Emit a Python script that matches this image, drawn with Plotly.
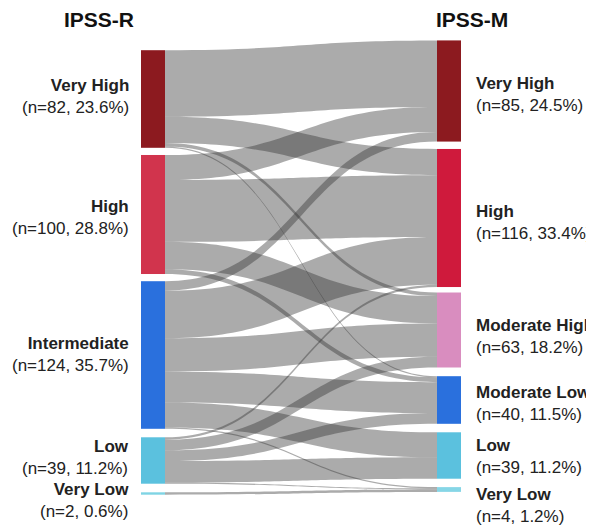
import plotly.graph_objects as go

# ---- data ----
left_names = ["Very High", "High", "Intermediate", "Low", "Very Low"]
left_counts = [82, 100, 124, 39, 2]
right_names = ["Very High", "High", "Moderate High", "Moderate Low", "Low", "Very Low"]
right_counts = [85, 116, 63, 40, 39, 4]

link_source = [0, 0, 0, 0,
               1, 1, 1, 1,
               2, 2, 2, 2, 2, 2,
               3, 3, 3, 3, 3,
               4]
link_target = [5, 6, 7, 8,
               5, 6, 7, 8,
               5, 6, 7, 8, 9, 10,
               6, 7, 8, 9, 10,
               10]
link_value = [56, 22, 3, 1,
              21, 52, 23, 4,
              8, 40, 28, 26, 21, 1,
              2, 9, 9, 18, 1,
              2]

left_colors = ["#8c1a1f", "#d1344d", "#2a70dd", "#5bc1de", "#7fd4e4"]
right_colors = ["#8c1a1f", "#cf1a3c", "#d98dbf", "#2a70dd", "#5bc1de", "#86d6e6"]

# ---- layout geometry (screen pixels; page body has an 8px margin) ----
OFF = 8
W, H = 594 - OFF, 529 - OFF


def fx(px):
    return (px - OFF) / W


def fy(py):
    return 1 - (py - OFF) / H


dom_x0, dom_x1 = 141, 461
dom_y0, dom_y1 = 41, 494
dw = dom_x1 - dom_x0
dh = dom_y1 - dom_y0
thick = 24

left_centers_px = [99, 214.5, 355, 460.5, 493.5]
right_centers_px = [91, 218, 330, 400, 455.5, 489.5]

node_x = [12 / dw] * len(left_names) + [(dw - 12) / dw] * len(right_names)
node_y = [(c - dom_y0) / dh for c in left_centers_px] + [(c - dom_y0) / dh for c in right_centers_px]

fig = go.Figure(go.Sankey(
    arrangement="fixed",
    domain=dict(x=[fx(dom_x0), fx(dom_x1)], y=[fy(dom_y1), fy(dom_y0)]),
    node=dict(
        label=[""] * (len(left_names) + len(right_names)),
        customdata=left_names + right_names,
        hovertemplate="%{customdata}: %{value}<extra></extra>",
        color=left_colors + right_colors,
        thickness=thick,
        pad=8,
        line=dict(width=0),
        x=node_x,
        y=node_y,
    ),
    link=dict(
        source=link_source,
        target=link_target,
        value=link_value,
        color="rgba(50,50,50,0.41)",
    ),
))

total_left = sum(left_counts)
total_right = sum(right_counts)
font_fam = "Arial, Liberation Sans, Helvetica, sans-serif"

annotations = []
left_label_y = [97, 217, 355, 457, 500]
for name, n, yy in zip(left_names, left_counts, left_label_y):
    annotations.append(dict(
        xref="paper", yref="paper", x=fx(131), y=fy(yy),
        xanchor="right", yanchor="middle", align="right", showarrow=False,
        text=f"<b>{name}</b><br>(n={n}, {100 * n / total_left:.1f}%)",
        font=dict(family=font_fam, size=17, color="#222222"),
    ))
right_label_y = [95, 222, 336, 403, 456, 505]
for name, n, yy in zip(right_names, right_counts, right_label_y):
    annotations.append(dict(
        xref="paper", yref="paper", x=fx(474), y=fy(yy),
        xanchor="left", yanchor="middle", align="left", showarrow=False,
        text=f"<b>{name}</b><br>(n={n}, {100 * n / total_right:.1f}%)",
        font=dict(family=font_fam, size=17, color="#222222"),
    ))
annotations.append(dict(
    xref="paper", yref="paper", x=fx(99), y=fy(19), xanchor="center", yanchor="middle",
    showarrow=False, borderpad=0, text="<b>IPSS-R</b>", font=dict(family=font_fam, size=21, color="#111111")))
annotations.append(dict(
    xref="paper", yref="paper", x=fx(472), y=fy(20), xanchor="center", yanchor="middle",
    showarrow=False, borderpad=0, text="<b>IPSS-M</b>", font=dict(family=font_fam, size=21, color="#111111")))

fig.update_layout(
    width=W, height=H,
    margin=dict(l=0, r=0, t=0, b=0),
    paper_bgcolor="white",
    plot_bgcolor="white",
    annotations=annotations,
    font=dict(family=font_fam),
)

fig.write_html("out.html")
